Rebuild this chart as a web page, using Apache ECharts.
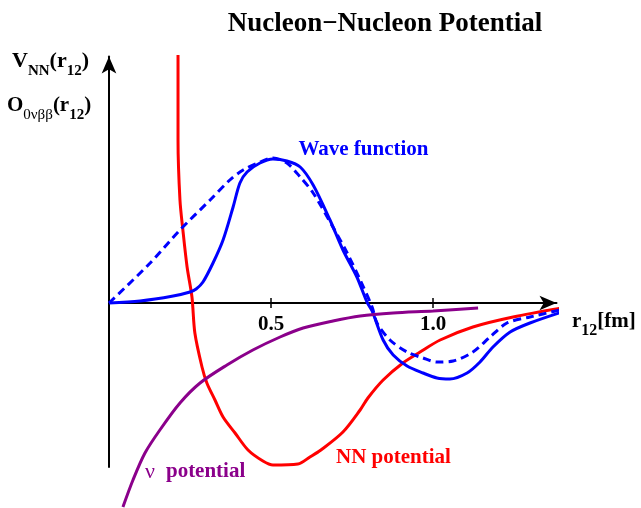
<!DOCTYPE html>
<html>
<head>
<meta charset="utf-8">
<script src="https://cdn.jsdelivr.net/npm/echarts@6/dist/echarts.min.js"></script>
<style>
  html, body { margin: 0; padding: 0; background: #fff; }
  #main { width: 641px; height: 508px; }
</style>
</head>
<body>
<div id="main"></div>
<script>
// values (r in fm, potential / wave function in arbitrary units)
var nnR = [0.213, 0.213, 0.219, 0.228, 0.241, 0.256, 0.265, 0.287, 0.302, 0.327, 0.352, 0.389, 0.429, 0.475, 0.506, 0.583, 0.620, 0.654, 0.722, 0.775, 0.799, 0.846, 0.907, 0.960, 1.022, 1.123, 1.247, 1.398]
var nnV = [2.48, 1.63, 1.03, 0.73, 0.36, 0.06, -0.30, -0.64, -0.80, -0.97, -1.14, -1.30, -1.47, -1.58, -1.62, -1.61, -1.54, -1.47, -1.29, -1.07, -0.95, -0.77, -0.60, -0.49, -0.37, -0.24, -0.14, -0.05]

var waveR = [0, 0.096, 0.198, 0.250, 0.269, 0.290, 0.321, 0.352, 0.383, 0.404, 0.426, 0.466, 0.506, 0.549, 0.590, 0.630, 0.682, 0.722, 0.765, 0.796, 0.812, 0.846, 0.877, 0.920, 0.969, 1.012, 1.052, 1.105, 1.145, 1.185, 1.238, 1.299, 1.398]
var waveV = [0, 0.02, 0.07, 0.11, 0.14, 0.21, 0.40, 0.63, 0.96, 1.20, 1.31, 1.40, 1.44, 1.42, 1.36, 1.18, 0.83, 0.53, 0.26, 0.01, -0.08, -0.37, -0.52, -0.63, -0.70, -0.75, -0.76, -0.70, -0.59, -0.44, -0.29, -0.20, -0.09]

var freeR = [0, 0.127, 0.219, 0.312, 0.373, 0.414, 0.466, 0.506, 0.549, 0.590, 0.630, 0.691, 0.735, 0.775, 0.812, 0.827, 0.867, 0.920, 0.969, 1.012, 1.062, 1.123, 1.176, 1.228, 1.299, 1.392]
var freeV = [0, 0.40, 0.73, 1.03, 1.23, 1.33, 1.41, 1.45, 1.40, 1.26, 1.10, 0.76, 0.50, 0.23, -0.04, -0.20, -0.37, -0.49, -0.55, -0.59, -0.58, -0.49, -0.34, -0.20, -0.14, -0.07]

var nuR = [0.043, 0.074, 0.111, 0.157, 0.219, 0.281, 0.364, 0.444, 0.528, 0.599, 0.691, 0.775, 0.877, 1.000, 1.139]
var nuV = [-2.04, -1.77, -1.50, -1.27, -1.00, -0.80, -0.62, -0.47, -0.34, -0.25, -0.18, -0.13, -0.10, -0.08, -0.05]

var xTicks = [0.5, 1.0]

function pairs (xs, ys) {
  var out = []
  for (var i = 0; i < xs.length; i++) {
    out.push([xs[i], ys[i]])
  }
  return out
}

var serif = '"Liberation Serif", "Times New Roman", serif'
var xMin = 0, xMax = 1.381
var yMin = -1.64, yMax = 2.465
// x axis sits at y = 0, i.e. 164px above the grid bottom
var zeroOffset = -164

var myChart = echarts.init(document.getElementById('main'))
myChart.setOption({
  animation: false,
  grid: { left: 109, right: 84.5, top: 56.5, bottom: 41 },
  xAxis: [
    {
      type: 'value',
      min: xMin,
      max: xMax,
      position: 'bottom',
      offset: zeroOffset,
      axisLine: {
        onZero: false,
        symbol: ['none', 'arrow'],
        symbolSize: [11, 17],
        lineStyle: { color: '#000', width: 2 }
      },
      axisTick: { customValues: xTicks, length: 5, lineStyle: { color: '#000', width: 1.5 } },
      axisLabel: {
        customValues: xTicks,
        formatter: function (v) { return v.toFixed(1) },
        color: '#000',
        fontFamily: serif,
        fontWeight: 'bold',
        fontSize: 21,
        margin: 11
      },
      splitLine: { show: false }
    },
    {
      // upper half of the ticks
      type: 'value',
      min: xMin,
      max: xMax,
      position: 'bottom',
      offset: zeroOffset,
      axisLine: { show: false, onZero: false },
      axisTick: { inside: true, customValues: xTicks, length: 5, lineStyle: { color: '#000', width: 1.5 } },
      axisLabel: { show: false },
      splitLine: { show: false }
    }
  ],
  yAxis: {
    type: 'value',
    min: yMin,
    max: yMax,
    axisLine: {
      show: true,
      onZero: false,
      symbol: ['none', 'arrow'],
      symbolSize: [11, 17],
      lineStyle: { color: '#000', width: 2 }
    },
    axisTick: { show: false },
    axisLabel: { show: false },
    splitLine: { show: false }
  },
  series: [
    {
      name: 'NN potential',
      type: 'line',
      data: pairs(nnR, nnV),
      showSymbol: false,
      smooth: 0.3,
      clip: false,
      lineStyle: { color: '#ff0000', width: 3 }
    },
    {
      name: 'Wave function',
      type: 'line',
      data: pairs(waveR, waveV),
      showSymbol: false,
      smooth: 0.3,
      clip: false,
      lineStyle: { color: '#0000ff', width: 3 }
    },
    {
      name: 'Wave function (free)',
      type: 'line',
      data: pairs(freeR, freeV),
      showSymbol: false,
      smooth: 0.3,
      clip: false,
      lineStyle: { color: '#0000ff', width: 3, type: [8, 5] }
    },
    {
      name: 'nu potential',
      type: 'line',
      data: pairs(nuR, nuV),
      showSymbol: false,
      smooth: 0.3,
      clip: false,
      lineStyle: { color: '#8b008b', width: 3 }
    }
  ],
  graphic: [
    {
      type: 'text', x: 385, y: 24,
      style: { text: 'Nucleon\u2212Nucleon Potential', font: 'bold 27px ' + serif, fill: '#000', align: 'center', verticalAlign: 'middle' }
    },
    {
      type: 'text', x: 363.5, y: 150,
      style: { text: 'Wave function', font: 'bold 21px ' + serif, fill: '#0000ff', align: 'center', verticalAlign: 'middle' }
    },
    {
      type: 'text', x: 393.5, y: 458,
      style: { text: 'NN potential', font: 'bold 21px ' + serif, fill: '#ff0000', align: 'center', verticalAlign: 'middle' }
    },
    {
      type: 'text', x: 145, y: 472,
      style: {
        text: '{g|\u03bd  }{b|potential}',
        fill: '#8b008b', align: 'left', verticalAlign: 'middle',
        rich: {
          g: { fontFamily: serif, fontSize: 22, fill: '#8b008b' },
          b: { fontFamily: serif, fontSize: 21, fontWeight: 'bold', fill: '#8b008b' }
        }
      }
    },
    {
      type: 'text', x: 12, y: 50,
      style: {
        text: '{b|V}{s|NN}{b|(r}{s|12}{b|)}',
        align: 'left', verticalAlign: 'top',
        rich: {
          b: { fontFamily: serif, fontSize: 22, fontWeight: 'bold', fill: '#000', verticalAlign: 'top', padding: [0, 0, 7, 0] },
          s: { fontFamily: serif, fontSize: 15, fontWeight: 'bold', fill: '#000', verticalAlign: 'bottom' }
        }
      }
    },
    {
      type: 'text', x: 7, y: 95,
      style: {
        text: '{b|O}{n|0\u03bd\u03b2\u03b2}{b|(r}{s|12}{b|)}',
        align: 'left', verticalAlign: 'top',
        rich: {
          b: { fontFamily: serif, fontSize: 21, fontWeight: 'bold', fill: '#000', verticalAlign: 'top', padding: [0, 0, 7, 0] },
          s: { fontFamily: serif, fontSize: 15, fontWeight: 'bold', fill: '#000', verticalAlign: 'bottom' },
          n: { fontFamily: serif, fontSize: 15, fill: '#000', verticalAlign: 'bottom' }
        }
      }
    },
    {
      type: 'text', x: 572, y: 311,
      style: {
        text: '{b|r}{s|12}{b|[fm]}',
        align: 'left', verticalAlign: 'top',
        rich: {
          b: { fontFamily: serif, fontSize: 21, fontWeight: 'bold', fill: '#000', verticalAlign: 'top', padding: [0, 0, 7, 0] },
          s: { fontFamily: serif, fontSize: 16, fontWeight: 'bold', fill: '#000', verticalAlign: 'bottom' }
        }
      }
    }
  ]
})
</script>
</body>
</html>
